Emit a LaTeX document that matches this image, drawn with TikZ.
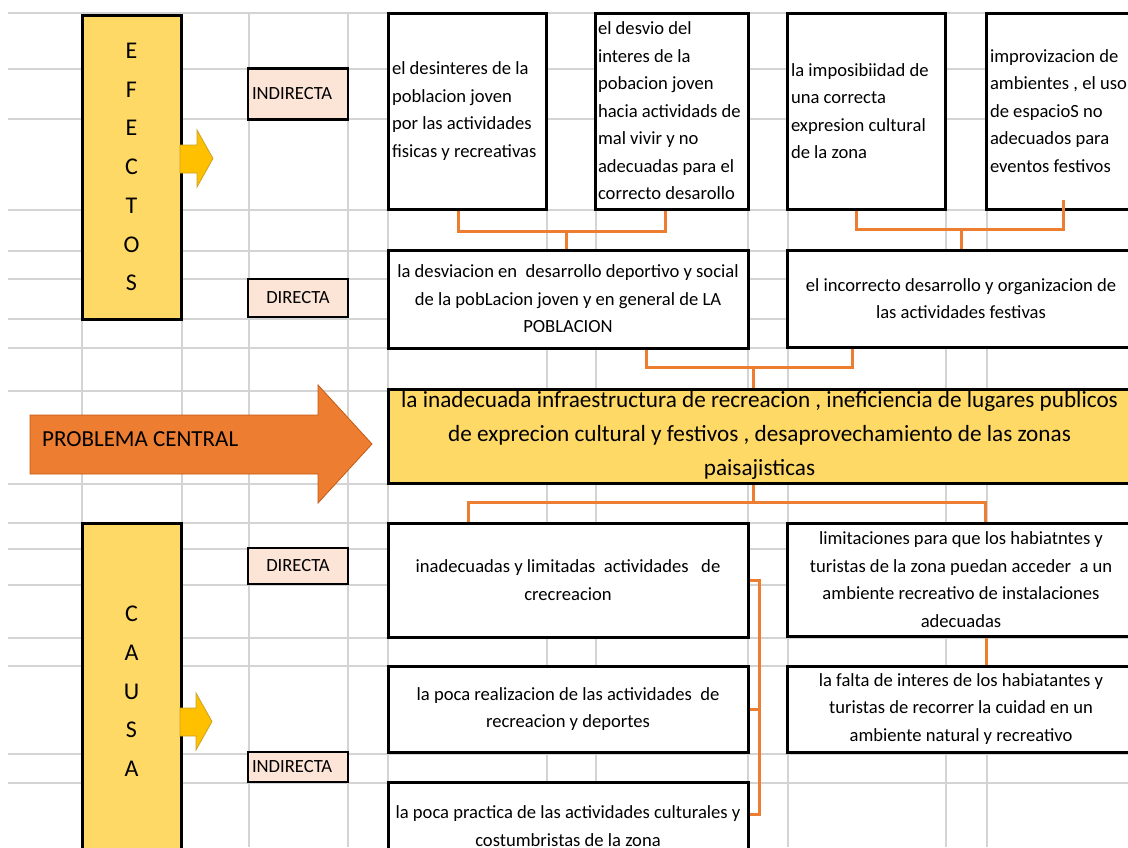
\documentclass[tikz,border=0pt]{standalone}
\usepackage{fontspec}
\setmainfont{Carlito}
\definecolor{colgold}{HTML}{FFD966}
\definecolor{tagpeach}{HTML}{FCE4D6}
\definecolor{arrgold}{HTML}{FFC000}
\definecolor{arrgoldline}{HTML}{C9A227}
\definecolor{orng}{HTML}{ED7D31}
\definecolor{orngline}{HTML}{C55A11}
\definecolor{cellgrid}{HTML}{D4D4D4}

\begin{document}
\begin{tikzpicture}[x=1pt, y=-1pt,
    gridline/.style = {draw=cellgrid, line width=1.6pt},
    txtbox/.style = {draw, line width=3pt, fill=white, inner xsep=4pt, inner ysep=1pt, font=\fontsize{18.6}{27.5}\selectfont},
    lefttxt/.style = {txtbox, align=flush left},
    midtxt/.style = {txtbox, align=center},
    tagbox/.style = {draw, line width=2.6pt, fill=tagpeach, inner xsep=4pt, inner ysep=1pt, minimum width=100, font=\fontsize{18.6}{22}\selectfont},
    colbox/.style = {draw, line width=3pt, fill=colgold, minimum width=99, align=center, font=\fontsize{24}{38.7}\selectfont},
    goldarrow/.style = {fill=arrgold, draw=arrgoldline, line width=0.8pt},
    link/.style = {draw=orng, line width=3pt}]

    \useasboundingbox (0,0) rectangle (1128,847);
    \clip (0,0) rectangle (1128,847);
    \fill[white] (0,0) rectangle (1128,847);

    \foreach \gx in {82,182,249,348,388,547,596,748,788,946,987}
        \draw[gridline] (\gx,13) -- (\gx,847);
    \foreach \gy in {13,69,119,210,251,279,319,348,391,484,523,549,585,638,666,754,783}
        \draw[gridline] (8,\gy) -- (1128,\gy);

    \node[colbox, minimum height=304] (efectos) at (131.5,167) {E\\F\\E\\C\\T\\O\\S};
    \node[colbox, minimum height=337] (causa) at (131.5,691.5) {C\\A\\U\\S\\A};

    \draw[goldarrow] (180,145) -- (197,145) -- (197,130) -- (213,158.5) -- (197,187) -- (197,173) -- (180,173) -- cycle;
    \draw[goldarrow] (180,708) -- (196,708) -- (196,693) -- (212,721.5) -- (196,750) -- (196,736) -- (180,736) -- cycle;

    \node[tagbox, minimum height=51, text width=92, align=flush left] (ind1) at (298,94) {INDIRECTA};
    \node[tagbox, minimum height=38, align=center] (dir1) at (298,298) {DIRECTA};
    \node[tagbox, minimum height=36, align=center] (dir2) at (298,566) {DIRECTA};
    \node[tagbox, minimum height=30, text width=92, align=flush left] (ind2) at (298,767) {INDIRECTA};

    \node[lefttxt, minimum height=196, text width=150] (desint) at (467,111) {el desinteres de la\\poblacion joven\\por las actividades\\fisicas y recreativas};
    \node[lefttxt, minimum height=196, text width=147, inner xsep=3pt] (desvio) at (671.5,111) {el desvio del\\interes de la\\pobacion joven\\hacia actividads de\\mal vivir y no\\adecuadas para el\\correcto desarollo};
    \node[lefttxt, minimum height=196, text width=150] (imposib) at (866,111) {la imposibiidad de\\una correcta\\expresion cultural\\de la zona};
    \node[lefttxt, minimum height=196, text width=156] (improv) at (1068,111) {improvizacion de\\ambientes , el uso\\de espacioS no\\adecuados para\\eventos festivos};

    \node[midtxt, minimum width=360, minimum height=98] (desviacion) at (568,299) {la desviacion en~ desarrollo deportivo y social\\de la pobLacion joven y en general de LA\\POBLACION};
    \node[midtxt, minimum width=348, minimum height=97] (incorrecto) at (961,298.5) {el incorrecto desarrollo y organizacion de\\las actividades festivas};

    \draw[fill=orng, draw=orngline, line width=0.8pt] (30,415) -- (318,415) -- (318,385) -- (372,444) -- (318,503) -- (318,474) -- (30,474) -- cycle;
    \node[anchor=west, inner sep=0pt, font=\fontsize{23}{28}\selectfont] (probl) at (42,439) {PROBLEMA CENTRAL};

    \node[draw, line width=3pt, fill=colgold, minimum width=747, minimum height=94] (central) at (761.5,436) {};
    \node[align=center, inner sep=0pt, font=\fontsize{23.2}{34}\selectfont] (centraltxt) at (759.5,435) {la inadecuada infraestructura de recreacion , ineficiencia de lugares publicos\\de exprecion cultural y festivos , desaprovechamiento de las zonas\\paisajisticas};

    \node[midtxt, minimum width=360, minimum height=114] (inadec) at (568,580) {inadecuadas y limitadas~ actividades~~ de\\crecreacion};
    \node[midtxt, minimum width=360, minimum height=86] (poca) at (568,709) {la poca realizacion de las actividades~ de\\recreacion y deportes};
    \node[midtxt, minimum width=360, minimum height=88] (practica) at (568,826) {la poca practica de las actividades culturales y\\costumbristas de la zona};
    \node[midtxt, minimum width=348, minimum height=113] (limit) at (961,579.5) {limitaciones para que los habiatntes y\\turistas de la zona puedan acceder~ a un\\ambiente recreativo de instalaciones\\adecuadas};
    \node[midtxt, minimum width=348, minimum height=86] (falta) at (961,709) {la falta de interes de los habiatantes y\\turistas de recorrer la cuidad en un\\ambiente natural y recreativo};

    \coordinate (j1) at (566,231);
    \draw[link] ([xshift=-9pt]desint.south) |- (j1) -| ([xshift=-6.5pt]desvio.south);
    \draw[link] (j1) -- (j1 |- desviacion.north);
    \coordinate (j2) at (961,229);
    \draw[link] ([xshift=-10pt]imposib.south) |- (j2) -| ([xshift=-5pt,yshift=11pt]improv.south);
    \draw[link] (j2) -- (j2 |- incorrecto.north);
    \coordinate (j3) at (753,367);
    \draw[link] ([xshift=78pt]desviacion.south) |- (j3) -| ([xshift=-109pt]incorrecto.south);
    \draw[link] (j3) -- (j3 |- central.north);
    \coordinate (j4) at (753,502);
    \draw[link] (central.south -| j4) -- (j4);
    \draw[link] ([xshift=-100pt]inadec.north) |- (j4) -| ([xshift=24pt]limit.north);
    \draw[link] (inadec.east) -- ++(10,0) |- ([yshift=12pt]practica.east);
    \draw[link] (poca.east) -- ++(10,0);
    \draw[link] ([xshift=25pt]limit.south) -- ([xshift=25pt]falta.north);
\end{tikzpicture}
\end{document}
